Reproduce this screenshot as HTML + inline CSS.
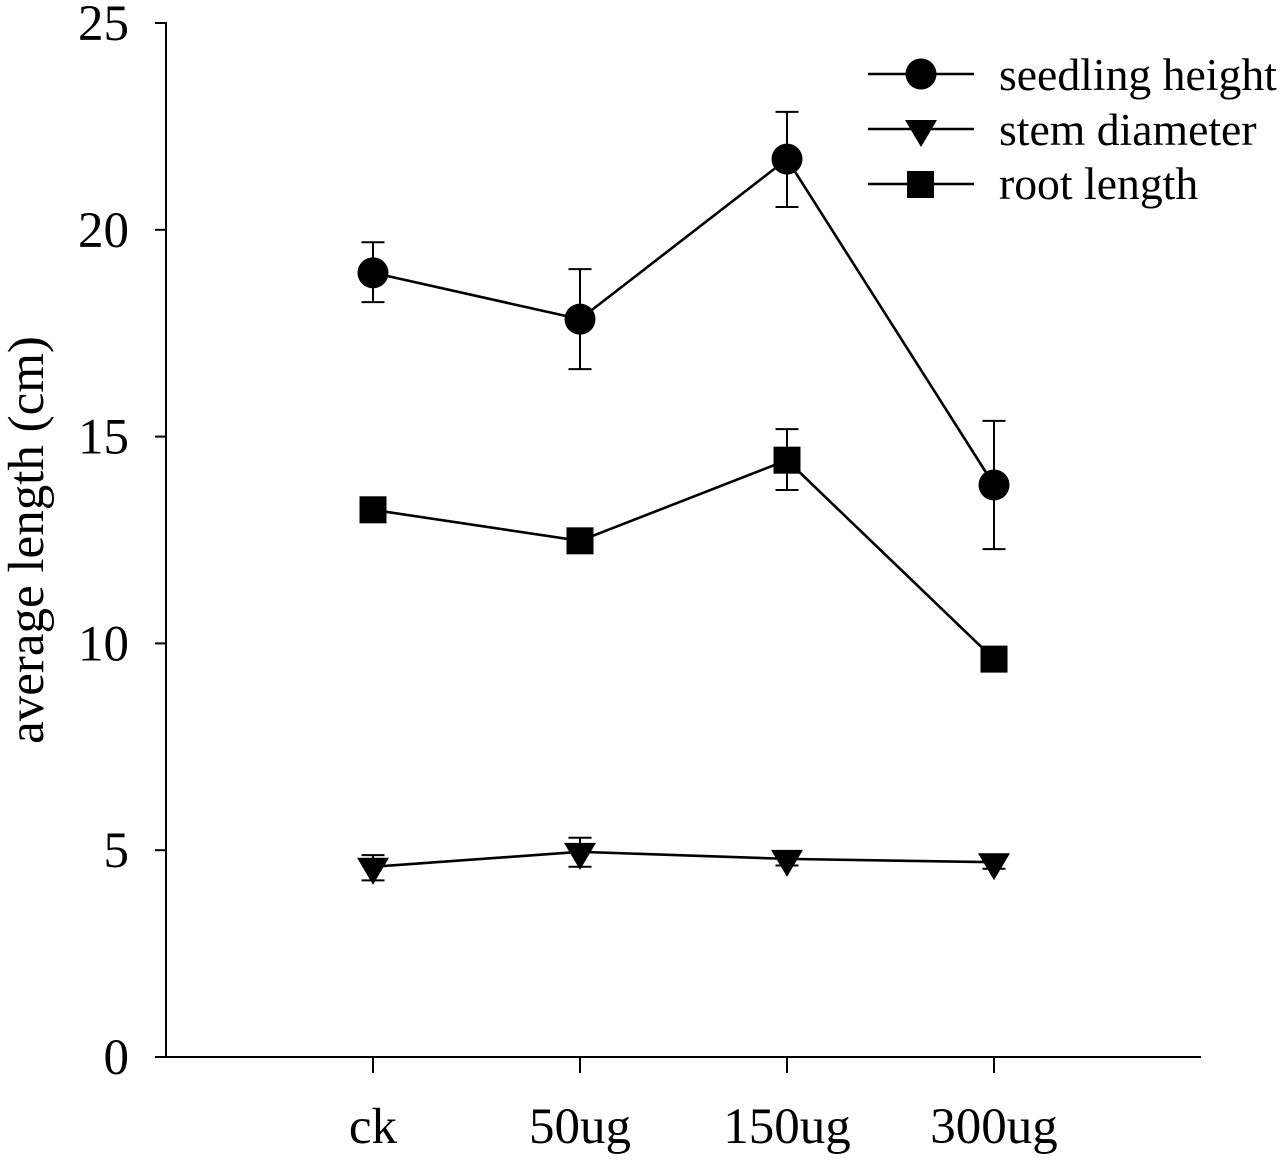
<!DOCTYPE html>
<html>
<head>
<meta charset="utf-8">
<title>Average length chart</title>
<style>
html,body{margin:0;padding:0;background:#fff;width:1284px;height:1160px;overflow:hidden}
svg{display:block}
text{font-family:"Liberation Serif",serif;fill:#000}
</style>
</head>
<body>
<svg id="chart" width="1284" height="1160" viewBox="0 0 1284 1160" xmlns="http://www.w3.org/2000/svg">
  <rect width="1284" height="1160" fill="#fff"/>
  <g id="axes"></g>
  <g id="series"></g>
  <text transform="translate(43,540) rotate(-90)" text-anchor="middle" font-size="51">average length (cm)</text>
  <g>
    <g>
      <line x1="868" x2="974" y1="74" y2="74" stroke="#000" stroke-width="2.5"/>
      <circle cx="921" cy="74" r="15.5" fill="#000"/>
      <text x="999" y="90" font-size="45.7">seedling height</text>
    </g>
    <g>
      <line x1="868" x2="974" y1="129" y2="129" stroke="#000" stroke-width="2.5"/>
      <polygon points="905,120 937,120 921,147" fill="#000"/>
      <text x="999" y="145" font-size="45.7">stem diameter</text>
    </g>
    <g>
      <line x1="868" x2="974" y1="184" y2="184" stroke="#000" stroke-width="2.5"/>
      <rect x="907" y="171" width="27" height="27" fill="#000"/>
      <text x="999" y="199" font-size="45.7">root length</text>
    </g>
  </g>
</svg>
<script>
const categories = ['ck', '50ug', '150ug', '300ug'];
const yTickLabels = [0, 5, 10, 15, 20, 25];

const seedlingHeight = [18.96, 17.84, 21.71, 13.83];
const seedlingUpper = [19.70, 19.05, 22.85, 15.38];
const seedlingLower = [18.25, 16.63, 20.55, 12.28];

const stemDiameter = [4.60, 4.96, 4.79, 4.71];
const stemUpper = [4.88, 5.30, 4.95, 4.87];
const stemLower = [4.27, 4.60, 4.63, 4.55];

const rootLength = [13.23, 12.48, 14.43, 9.62];
const rootUpper = [13.23, 12.48, 15.18, 9.62];
const rootLower = [13.23, 12.48, 13.71, 9.62];

const NS = 'http://www.w3.org/2000/svg';
const axesGroup = document.getElementById('axes');
const seriesGroup = document.getElementById('series');

function xScale(i) { return 373 + i * 207; }
function yScale(v) { return 1057 - v * 41.36; }

function make(tag, parent, attrs) {
  const el = document.createElementNS(NS, tag);
  for (const k in attrs) el.setAttribute(k, attrs[k]);
  parent.appendChild(el);
  return el;
}

let el = make('line', axesGroup, {x1: 166, x2: 166, y1: yScale(25) - 1, y2: yScale(0) + 1, stroke: '#000', 'stroke-width': 2});


el = make('line', axesGroup, {x1: 155, x2: 1201, y1: yScale(0), y2: yScale(0), stroke: '#000', 'stroke-width': 2});



yTickLabels.forEach(function (v) {
  let t = make('line', axesGroup, {x1: 155, x2: 166, y1: yScale(v), y2: yScale(v), stroke: '#000', 'stroke-width': 2});
  
  
  t = make('text', axesGroup, {x: 129, y: yScale(v) + 17, 'text-anchor': 'end', 'font-size': 51});
  t.textContent = v;
  
  
});

categories.forEach(function (c, i) {
  let t = make('line', axesGroup, {x1: xScale(i), x2: xScale(i), y1: yScale(0), y2: 1073, stroke: '#000', 'stroke-width': 2});
  
  
  t = make('text', axesGroup, {x: xScale(i), y: 1143, 'text-anchor': 'middle', 'font-size': 51});
  t.textContent = c;
  
  
});

function drawErrors(upper, lower) {
  upper.forEach(function (u, i) {
    if (u === lower[i]) return;
    const x = xScale(i);
    let e = make('line', seriesGroup, {x1: x, x2: x, y1: yScale(u), y2: yScale(lower[i]), stroke: '#000', 'stroke-width': 2});
    
    
    e = make('line', seriesGroup, {x1: x - 11.5, x2: x + 11.5, y1: yScale(u), y2: yScale(u), stroke: '#000', 'stroke-width': 2});
    
    
    e = make('line', seriesGroup, {x1: x - 11.5, x2: x + 11.5, y1: yScale(lower[i]), y2: yScale(lower[i]), stroke: '#000', 'stroke-width': 2});
    
    
  });
}

function drawLine(values) {
  const pts = values.map(function (v, i) { return xScale(i) + ',' + yScale(v); }).join(' ');
  const l = make('polyline', seriesGroup, {points: pts, fill: 'none', stroke: '#000', 'stroke-width': 2.6});
  
  
}

drawErrors(seedlingUpper, seedlingLower);
drawErrors(stemUpper, stemLower);
drawErrors(rootUpper, rootLower);
drawLine(seedlingHeight);
drawLine(stemDiameter);
drawLine(rootLength);

seedlingHeight.forEach(function (v, i) {
  const m = make('circle', seriesGroup, {cx: xScale(i), cy: yScale(v), r: 15.5, fill: '#000'});
  
  
});
stemDiameter.forEach(function (v, i) {
  const x = xScale(i), y = yScale(v);
  const m = make('polygon', seriesGroup, {points: (x - 16) + ',' + (y - 9) + ' ' + (x + 16) + ',' + (y - 9) + ' ' + x + ',' + (y + 18), fill: '#000'});
  
  
});
rootLength.forEach(function (v, i) {
  const x = xScale(i), y = yScale(v);
  const m = make('rect', seriesGroup, {x: x - 13.5, y: y - 13.5, width: 27, height: 27, fill: '#000'});
  
  
});
</script>
</body>
</html>
